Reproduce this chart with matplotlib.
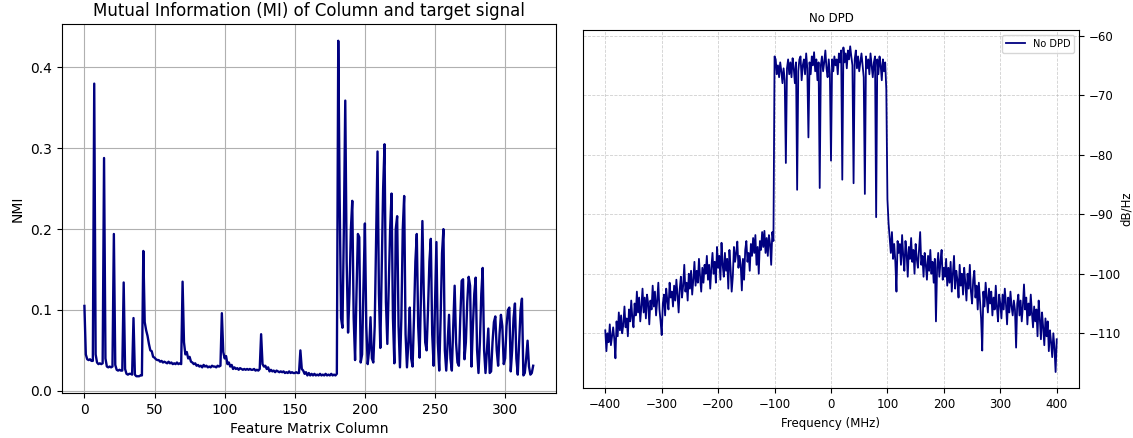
import numpy as np
import matplotlib
matplotlib.use("Agg")
import matplotlib.pyplot as plt

# left panel: normalised mutual information per feature column
nmi = [
    0.105, 0.045, 0.039, 0.038, 0.039, 0.037, 0.037, 0.380, 0.045, 0.035,
    0.033, 0.034, 0.033, 0.034, 0.288, 0.040, 0.030, 0.029, 0.030, 0.029,
    0.030, 0.194, 0.032, 0.026, 0.025, 0.026, 0.025, 0.025, 0.134, 0.027,
    0.021, 0.020, 0.021, 0.021, 0.020, 0.090, 0.020, 0.018, 0.018, 0.018,
    0.019, 0.019, 0.173, 0.085, 0.075, 0.068, 0.058, 0.050, 0.049, 0.042,
    0.041, 0.039, 0.038, 0.038, 0.036, 0.037, 0.035, 0.036, 0.035, 0.034,
    0.036, 0.034, 0.035, 0.033, 0.034, 0.033, 0.035, 0.033, 0.034, 0.033,
    0.135, 0.060, 0.045, 0.048, 0.040, 0.042, 0.036, 0.035, 0.033, 0.034,
    0.031, 0.032, 0.030, 0.031, 0.029, 0.032, 0.030, 0.031, 0.029, 0.030,
    0.029, 0.031, 0.030, 0.030, 0.029, 0.031, 0.030, 0.031, 0.096, 0.048,
    0.040, 0.043, 0.033, 0.035, 0.030, 0.032, 0.027, 0.029, 0.027, 0.028,
    0.026, 0.028, 0.027, 0.026, 0.027, 0.026, 0.027, 0.026, 0.027, 0.026,
    0.026, 0.027, 0.025, 0.026, 0.025, 0.027, 0.070, 0.033, 0.030, 0.031,
    0.027, 0.029, 0.024, 0.026, 0.024, 0.025, 0.023, 0.025, 0.024, 0.023,
    0.024, 0.023, 0.024, 0.022, 0.023, 0.022, 0.024, 0.022, 0.023, 0.022,
    0.022, 0.023, 0.022, 0.022, 0.050, 0.027, 0.025, 0.021, 0.023, 0.019,
    0.022, 0.019, 0.021, 0.019, 0.021, 0.019, 0.020, 0.019, 0.021, 0.019,
    0.020, 0.019, 0.021, 0.019, 0.020, 0.019, 0.021, 0.019, 0.020, 0.019,
    0.021, 0.433, 0.240, 0.090, 0.078, 0.200, 0.359, 0.160, 0.072, 0.120,
    0.200, 0.235, 0.090, 0.038, 0.120, 0.194, 0.190, 0.035, 0.045, 0.130,
    0.207, 0.080, 0.033, 0.050, 0.091, 0.040, 0.035, 0.080, 0.190, 0.296,
    0.120, 0.053, 0.150, 0.250, 0.305, 0.110, 0.058, 0.130, 0.200, 0.244,
    0.090, 0.034, 0.200, 0.216, 0.080, 0.029, 0.090, 0.200, 0.241, 0.070,
    0.029, 0.060, 0.103, 0.040, 0.030, 0.090, 0.160, 0.194, 0.080, 0.041,
    0.120, 0.210, 0.120, 0.060, 0.050, 0.100, 0.160, 0.188, 0.070, 0.031,
    0.110, 0.184, 0.060, 0.025, 0.090, 0.170, 0.200, 0.050, 0.025, 0.060,
    0.094, 0.040, 0.025, 0.080, 0.130, 0.060, 0.035, 0.031, 0.090, 0.136,
    0.138, 0.039, 0.060, 0.110, 0.141, 0.130, 0.030, 0.080, 0.120, 0.140,
    0.050, 0.022, 0.060, 0.120, 0.152, 0.050, 0.022, 0.050, 0.077, 0.022,
    0.024, 0.060, 0.085, 0.092, 0.050, 0.031, 0.070, 0.094, 0.080, 0.033,
    0.040, 0.080, 0.100, 0.103, 0.024, 0.050, 0.090, 0.108, 0.040, 0.020,
    0.060, 0.100, 0.114, 0.019, 0.022, 0.040, 0.062, 0.030, 0.020, 0.022,
    0.031,
]
columns = np.arange(len(nmi))

# right panel: PSD without DPD, 2 MHz grid
psd_lower = [  # -400 .. -102 MHz
    -109.5, -113.0, -110.0, -111.5, -108.5, -112.0, -110.5, -109.0, -111.0, -114.2,
    -108.0, -110.5, -106.5, -109.5, -107.0, -110.0, -108.5, -105.5, -109.0, -107.5,
    -110.5, -106.0, -108.0, -104.5, -107.5, -109.0, -105.0, -107.0, -103.0, -106.5,
    -104.0, -108.0, -105.5, -102.5, -106.5, -104.0, -107.5, -103.5, -105.0, -108.5,
    -104.5, -106.0, -102.0, -105.5, -103.0, -107.0, -104.5, -101.5, -106.0, -108.0,
    -110.3, -105.0, -103.5, -107.0, -102.5, -104.5, -106.0, -101.5, -104.0, -103.0,
    -105.5, -102.0, -104.5, -101.0, -103.5, -106.5, -102.5, -100.5, -104.0, -102.0,
    -98.5, -103.0, -101.5, -104.5, -100.0, -102.5, -99.5, -103.5, -101.0, -98.0,
    -102.0, -99.5, -101.5, -97.5, -100.5, -103.0, -99.0, -101.5, -98.5, -100.0,
    -97.0, -101.0, -98.5, -102.5, -99.0, -96.5, -100.0, -98.0, -101.5, -95.5,
    -99.0, -97.0, -101.0, -94.8, -98.5, -100.5, -96.5, -99.5, -97.5, -102.5,
    -96.0, -99.0, -103.0, -100.5, -95.5, -98.0, -96.5, -94.6, -99.0, -97.0,
    -98.5, -102.8, -97.5, -101.0, -96.0, -94.5, -98.0, -96.5, -99.5, -95.0,
    -97.0, -94.0, -96.5, -93.5, -98.5, -95.5, -100.0, -94.5, -96.0, -93.0,
    -95.5, -92.8, -96.5, -94.0, -97.0, -93.5, -95.0, -98.5, -93.0, -94.5,
]
psd_band = [  # -100 .. 100 MHz
    -63.5, -64.0, -66.5, -65.0, -67.0, -64.5, -66.0, -68.0, -65.5, -67.5,
    -81.4, -65.5, -64.0, -66.5, -64.5, -67.0, -63.8, -65.5, -68.0, -64.5,
    -85.9, -66.0, -64.0, -63.5, -67.5, -65.0, -64.0, -66.5, -63.0, -65.5,
    -77.1, -64.5, -66.5, -63.5, -65.0, -62.8, -66.0, -64.0, -67.5, -64.5,
    -85.6, -65.0, -63.5, -66.0, -64.5, -62.5, -65.5, -67.0, -64.0, -66.5,
    -81.0, -64.0, -66.0, -63.5, -65.0, -64.0, -66.5, -63.0, -64.5, -62.5,
    -84.2, -62.0, -64.5, -63.0, -65.5, -62.5, -64.0, -61.8, -63.5, -65.0,
    -84.8, -64.0, -62.5, -65.5, -63.5, -66.0, -64.5, -63.0, -65.0, -67.0,
    -86.6, -63.5, -65.5, -64.0, -66.5, -63.0, -65.0, -67.0, -64.5, -63.5,
    -90.5, -64.0, -66.5, -63.5, -65.0, -67.5, -64.0, -66.0, -64.5, -69.0,
    -87.5,
]
psd_upper = [  # 102 .. 400 MHz
    -91.5, -94.0, -96.5, -93.0, -97.5, -95.0, -98.0, -103.0, -94.5, -96.5,
    -95.0, -98.5, -93.5, -97.0, -99.5, -94.5, -96.5, -100.5, -95.5, -97.5,
    -94.0, -98.0, -96.0, -100.0, -95.0, -97.5, -99.0, -96.0, -93.0, -98.5,
    -97.0, -100.5, -96.5, -98.5, -101.0, -97.0, -99.5, -96.0, -100.0, -98.0,
    -101.5, -97.5, -108.0, -99.0, -96.5, -100.5, -98.0, -96.0, -101.0, -99.0,
    -100.5, -97.5, -102.0, -99.0, -101.5, -98.0, -103.0, -100.0, -97.0, -102.5,
    -99.5, -101.0, -104.0, -98.5, -102.0, -100.0, -103.5, -99.0, -101.5, -104.5,
    -100.0, -102.5, -98.5, -103.0, -105.0, -101.0, -99.5, -104.0, -102.0, -106.0,
    -101.5, -104.5, -107.5, -112.9, -103.0, -105.5, -101.5, -104.0, -106.5, -102.5,
    -105.0, -103.0, -107.0, -104.0, -106.0, -102.0, -105.5, -108.0, -103.5, -105.0,
    -107.5, -103.5, -106.0, -102.5, -105.0, -108.5, -104.0, -106.5, -103.0, -105.5,
    -107.0, -104.5, -106.0, -112.4, -105.0, -103.5, -107.0, -104.5, -108.0, -105.5,
    -101.8, -106.0, -104.0, -108.5, -105.0, -107.0, -103.5, -106.5, -109.0, -105.5,
    -108.0, -106.0, -110.5, -104.5, -107.5, -111.0, -106.5, -109.0, -112.0, -107.5,
    -110.5, -108.0, -113.0, -109.5, -111.5, -114.0, -110.0, -112.5, -116.5, -111.0,
]
psd = np.concatenate([psd_lower, psd_band, psd_upper])
freq = np.arange(-400, 401, 2)

fig = plt.figure(figsize=(11.33, 4.38), dpi=100)

## left: MI
ax1 = fig.add_axes([0.0547, 0.1027, 0.4357, 0.8425])
ax1.plot(columns, nmi, color='navy', lw=1.7)
ax1.set_title('Mutual Information (MI) of Column and target signal', fontsize=12)
ax1.set_xlabel('Feature Matrix Column', fontsize=10)
ax1.set_ylabel('NMI', fontsize=10)
ax1.set_xticks([0, 50, 100, 150, 200, 250, 300])
ax1.tick_params(labelsize=10)
ax1.grid(True)

## right: spectrum
ax2 = fig.add_axes([0.5143, 0.1135, 0.4383, 0.818])
ax2.plot(freq, psd, color='navy', lw=1.3, label='No DPD')
ax2.set_title('No DPD', fontsize=8.5)
ax2.set_xlabel('Frequency (MHz)', fontsize=8.5)
ax2.yaxis.tick_right()
ax2.yaxis.set_label_position('right')
ax2.set_ylabel('dB/Hz', fontsize=8.5, labelpad=-1)
ax2.set_xticks([-400, -300, -200, -100, 0, 100, 200, 300, 400])
ax2.tick_params(labelsize=8.5)
ax2.grid(True, linestyle='--', alpha=0.6, lw=0.6)
ax2.legend(loc='upper right', fontsize=7)

fig.savefig('out.png', dpi=100)
